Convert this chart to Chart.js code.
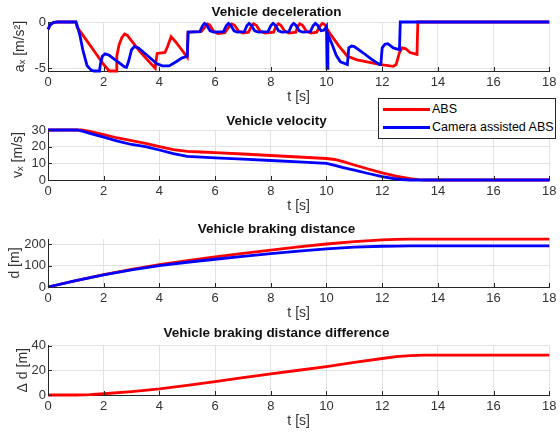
<!DOCTYPE html>
<html>
<head>
<meta charset="utf-8">
<script src="https://cdn.jsdelivr.net/npm/chart.js@4.4.1/dist/chart.umd.min.js"></script>
<style>
  html, body { margin: 0; padding: 0; background: #fff; }
  #wrap { position: relative; width: 560px; height: 435px; overflow: hidden; }
  #wrap canvas { position: absolute; left: 0; }
  #legend {
    position: absolute; left: 378px; top: 98px; width: 176px; height: 39px;
    border: 1px solid #262626; background: #fff;
    font: 12.5px 'Liberation Sans', Arial, sans-serif; color: #000;
  }
  #legend .row { position: absolute; left: 0; height: 18px; width: 100%; }
  #legend .swatch { position: absolute; left: 4px; top: 7px; width: 47px; height: 3px; }
  #legend .label { position: absolute; left: 53px; top: 1px; white-space: nowrap; }
</style>
</head>
<body>
<div id="wrap">
  <canvas id="accChart"></canvas>
  <canvas id="velChart"></canvas>
  <canvas id="distChart"></canvas>
  <canvas id="diffChart"></canvas>
  <div id="legend"></div>
</div>
<script>
// series names
const seriesLabels = ['ABS', 'Camera assisted ABS'];

// ticks
const timeTicks = [0, 2, 4, 6, 8, 10, 12, 14, 16, 18];
const accTicks = [-5, 0];
const velTicks = [0, 10, 20, 30];
const distTicks = [0, 100, 200];
const diffTicks = [0, 20, 40];

// [t, a_x] deceleration
const accAbs = [[0,-0.8],[0.08,-0.3],[0.2,-0.05],[0.35,0],[1.0,0],[1.05,-0.6],[1.2,-1.2],[1.6,-2.9],[2.0,-4.6],[2.2,-5.3],[2.45,-5.3],[2.47,-3.7],[2.55,-2.5],[2.65,-1.7],[2.75,-1.3],[2.85,-1.45],[3.3,-3.2],[3.85,-5.0],[3.88,-4.2],[3.92,-3.4],[4.2,-3.3],[4.3,-2.6],[4.42,-1.6],[4.6,-2.2],[4.8,-3.0],[5.0,-3.8],[5.03,-1.1],[5.5,-1.05],[5.62,-0.6],[5.72,-0.2],[5.8,-0.3],[5.95,-1.0],[6.1,-1.25],[6.35,-1.15],[6.5,-0.5],[6.6,-0.2],[6.7,-0.35],[6.85,-1.0],[7.0,-1.2],[7.2,-1.1],[7.3,-0.5],[7.38,-0.2],[7.48,-0.35],[7.62,-1.0],[7.8,-1.2],[8.1,-1.1],[8.18,-0.5],[8.27,-0.2],[8.36,-0.35],[8.5,-1.0],[8.65,-1.2],[8.9,-1.1],[8.96,-0.5],[9.04,-0.2],[9.14,-0.35],[9.28,-1.0],[9.45,-1.2],[9.65,-1.1],[9.75,-0.5],[9.85,-0.15],[9.95,-0.3],[10.05,-0.9],[10.16,-1.4],[10.45,-2.6],[10.75,-3.7],[11.1,-4.1],[11.5,-4.35],[11.95,-4.6],[12.4,-4.8],[12.5,-4.6],[12.62,-3.3],[12.72,-2.8],[12.85,-2.9],[13.0,-3.3],[13.25,-3.5],[13.28,0],[18,0]];
const accCam = [[0,-0.8],[0.08,-0.3],[0.2,-0.05],[0.35,0],[1.0,0],[1.05,-0.4],[1.15,-1.5],[1.25,-3.0],[1.4,-4.7],[1.55,-5.2],[1.65,-5.3],[1.85,-5.3],[1.88,-4.6],[1.95,-3.7],[2.05,-3.45],[2.2,-3.6],[2.5,-4.3],[2.75,-4.85],[2.82,-4.9],[2.9,-4.2],[3.0,-3.0],[3.1,-2.65],[3.25,-2.8],[3.6,-3.7],[3.9,-4.5],[4.1,-4.75],[4.35,-4.75],[4.6,-4.3],[4.8,-3.9],[5.0,-3.7],[5.03,-1.1],[5.45,-1.05],[5.55,-0.4],[5.62,-0.15],[5.7,-0.35],[5.82,-0.95],[5.95,-1.1],[6.3,-1.05],[6.4,-0.4],[6.48,-0.15],[6.56,-0.35],[6.68,-0.95],[6.8,-1.1],[7.05,-1.05],[7.14,-0.4],[7.22,-0.15],[7.3,-0.35],[7.42,-0.95],[7.55,-1.1],[7.9,-1.05],[8.0,-0.4],[8.08,-0.15],[8.16,-0.35],[8.28,-0.95],[8.4,-1.1],[8.65,-1.05],[8.74,-0.4],[8.82,-0.15],[8.9,-0.35],[9.02,-0.95],[9.15,-1.1],[9.42,-1.05],[9.52,-0.4],[9.6,-0.15],[9.68,-0.35],[9.8,-0.95],[9.9,-0.9],[9.98,-0.6],[10.0,-0.5],[10.02,-5.0],[10.05,-1.3],[10.2,-2.4],[10.35,-3.6],[10.5,-4.3],[10.75,-4.6],[10.8,-2.8],[10.9,-2.6],[11.0,-2.65],[11.3,-3.3],[11.6,-4.0],[11.9,-4.6],[11.95,-4.6],[12.0,-2.8],[12.1,-2.4],[12.2,-2.35],[12.4,-2.8],[12.62,-3.0],[12.65,0],[18,0]];

// [t, v_x] velocity
const velAbs = [[0,30],[1.2,30],[1.5,29.2],[2.0,27.2],[2.5,25.2],[3.0,23.6],[3.5,22.0],[4.0,20.0],[4.5,18.2],[5.0,17.2],[5.5,16.8],[6.0,16.4],[7.0,15.6],[8.0,14.7],[9.0,13.8],[10.0,12.9],[10.3,12.3],[10.6,11.0],[11.0,9.0],[11.5,6.6],[12.0,4.3],[12.5,2.3],[13.0,0.8],[13.3,0.2],[13.6,0],[18,0]];
const velCam = [[0,30],[1.05,30],[1.3,29],[1.6,27.5],[2.0,25.7],[2.5,23.3],[3.0,21.3],[3.5,20.0],[4.0,18.0],[4.5,15.8],[5.0,14.2],[5.5,13.7],[6.0,13.3],[7.0,12.5],[8.0,11.7],[9.0,10.9],[10.0,10.0],[10.3,8.8],[10.6,7.4],[11.0,5.9],[11.5,3.9],[12.0,2.0],[12.4,0.9],[12.7,0.3],[13.0,0],[18,0]];

// [t, d] braking distance
const distAbs = [[0,0],[1,30],[2,58],[3,82.8],[4,105],[5,123.8],[6,140.8],[7,157.5],[8,173],[9,188],[10,201.5],[11,212.8],[12,220.5],[12.5,223],[13,224.3],[13.5,224.8],[18,224.8]];
const distCam = [[0,0],[1,30],[2,57],[3,80],[4,100],[5,116],[6,130],[7,143.5],[8,156],[9,168],[10,178.5],[11,186.5],[12,191],[12.5,192],[13,192.5],[18,192.5]];

// [t, delta d] distance difference
const distDiff = [[0,0],[1,0],[1.5,0.3],[2,1],[3,2.8],[4,5],[5,7.8],[6,10.8],[7,14],[8,17],[9,20],[10,23],[11,26.3],[12,29.5],[12.5,31],[13,31.8],[13.5,32.3],[18,32.3]];

const FONT = "'Liberation Sans', Arial, 'DejaVu Sans', sans-serif";
const TEXT_COLOR = '#333333';
const AXIS_COLOR = '#262626';
const GRID_COLOR = '#e2e2e2';
const RED = '#ff0000';
const BLUE = '#0000ff';

// MATLAB style tick marks pointing into the plot
const innerTicks = {
  id: 'innerTicks',
  afterDatasetsDraw(chart) {
    const { ctx, chartArea, scales: { x, y } } = chart;
    ctx.save();
    ctx.strokeStyle = AXIS_COLOR;
    ctx.lineWidth = 1;
    ctx.beginPath();
    x.ticks.forEach(t => {
      const px = Math.round(x.getPixelForValue(t.value)) + 0.5;
      ctx.moveTo(px, chartArea.bottom);
      ctx.lineTo(px, chartArea.bottom - 4);
    });
    y.ticks.forEach(t => {
      const py = Math.round(y.getPixelForValue(t.value)) + 0.5;
      ctx.moveTo(chartArea.left, py);
      ctx.lineTo(chartArea.left + 4, py);
    });
    ctx.stroke();
    ctx.restore();
  }
};

const toXY = pts => pts.map(p => ({ x: p[0], y: p[1] }));

function makePanel(id, cfg) {
  const canvas = document.getElementById(id);
  canvas.width = 560;
  canvas.height = cfg.height;
  canvas.style.top = cfg.top + 'px';

  return new Chart(canvas, {
    type: 'line',
    data: {
      datasets: cfg.series.map(s => ({
        label: s.label,
        data: toXY(s.points),
        borderColor: s.color,
        backgroundColor: s.color,
        borderWidth: 2.8,
        pointRadius: 0,
        tension: 0,
        fill: false,
        clip: 4,
        order: s.order
      }))
    },
    options: {
      responsive: false,
      animation: false,
      events: [],
      layout: { padding: { left: 0, right: 7, top: 0, bottom: 0 } },
      plugins: {
        legend: { display: false },
        tooltip: { enabled: false },
        title: {
          display: true,
          text: cfg.title,
          color: '#111',
          font: { family: FONT, size: 13.5, weight: 'bold' },
          padding: { top: cfg.titleTop, bottom: cfg.titleBottom }
        }
      },
      scales: {
        x: {
          type: 'linear',
          min: 0,
          max: 18,
          afterBuildTicks: s => { s.ticks = timeTicks.map(v => ({ value: v })); },
          afterFit: s => { s.height = 35; },
          grid: { color: GRID_COLOR, drawTicks: false },
          border: { color: AXIS_COLOR, width: 1 },
          ticks: { padding: 3.5, color: TEXT_COLOR, maxRotation: 0, autoSkip: false, font: { family: FONT, size: 13 } },
          title: { display: true, text: 't [s]', color: TEXT_COLOR, font: { family: FONT, size: 14 }, padding: { top: 0, bottom: 0.1 } }
        },
        y: {
          type: 'linear',
          min: cfg.yMin,
          max: cfg.yMax,
          afterBuildTicks: s => { s.ticks = cfg.yTicks.map(v => ({ value: v })); },
          afterFit: s => { s.width = 48; },
          grid: { color: GRID_COLOR, drawTicks: false },
          border: { color: AXIS_COLOR, width: 1 },
          ticks: { padding: 2, color: TEXT_COLOR, autoSkip: false, font: { family: FONT, size: 13 } },
          title: { display: true, text: cfg.yLabel, color: TEXT_COLOR, font: { family: FONT, size: 14 }, padding: { top: cfg.yTitlePad, bottom: 0 } }
        }
      }
    },
    plugins: [innerTicks]
  });
}

const absSeries = pts => ({ label: seriesLabels[0], points: pts, color: RED, order: 1 });
const camSeries = pts => ({ label: seriesLabels[1], points: pts, color: BLUE, order: 0 });

makePanel('accChart', {
  top: 0, height: 106, titleTop: 3.9, titleBottom: 1.9,
  title: 'Vehicle deceleration', yLabel: 'aₓ [m/s²]', yTitlePad: 11.6,
  yMin: -5.3, yMax: 0, yTicks: accTicks,
  series: [absSeries(accAbs), camSeries(accCam)]
});

const velChart = makePanel('velChart', {
  top: 106, height: 109, titleTop: 6.9, titleBottom: 0.9,
  title: 'Vehicle velocity', yLabel: 'vₓ [m/s]', yTitlePad: 9.6,
  yMin: 0, yMax: 30, yTicks: velTicks,
  series: [absSeries(velAbs), camSeries(velCam)]
});

makePanel('distChart', {
  top: 215, height: 107, titleTop: 5.9, titleBottom: 1.9,
  title: 'Vehicle braking distance', yLabel: 'd [m]', yTitlePad: 6.6,
  yMin: 0, yMax: 225, yTicks: distTicks,
  series: [absSeries(distAbs), camSeries(distCam)]
});

makePanel('diffChart', {
  top: 322, height: 108, titleTop: 3.4, titleBottom: 3.9,
  title: 'Vehicle braking distance difference', yLabel: 'Δ d [m]', yTitlePad: 14.6,
  yMin: 0, yMax: 40, yTicks: diffTicks,
  series: [absSeries(distDiff)]
});

// legend box built from the velocity chart datasets
const legendEl = document.getElementById('legend');
velChart.data.datasets.forEach((ds, i) => {
  const row = document.createElement('div');
  row.className = 'row';
  row.style.top = (2 + i * 18) + 'px';
  const sw = document.createElement('div');
  sw.className = 'swatch';
  sw.style.background = ds.borderColor;
  const lb = document.createElement('span');
  lb.className = 'label';
  lb.textContent = ds.label;
  row.appendChild(sw);
  row.appendChild(lb);
  legendEl.appendChild(row);
});
</script>
</body>
</html>
